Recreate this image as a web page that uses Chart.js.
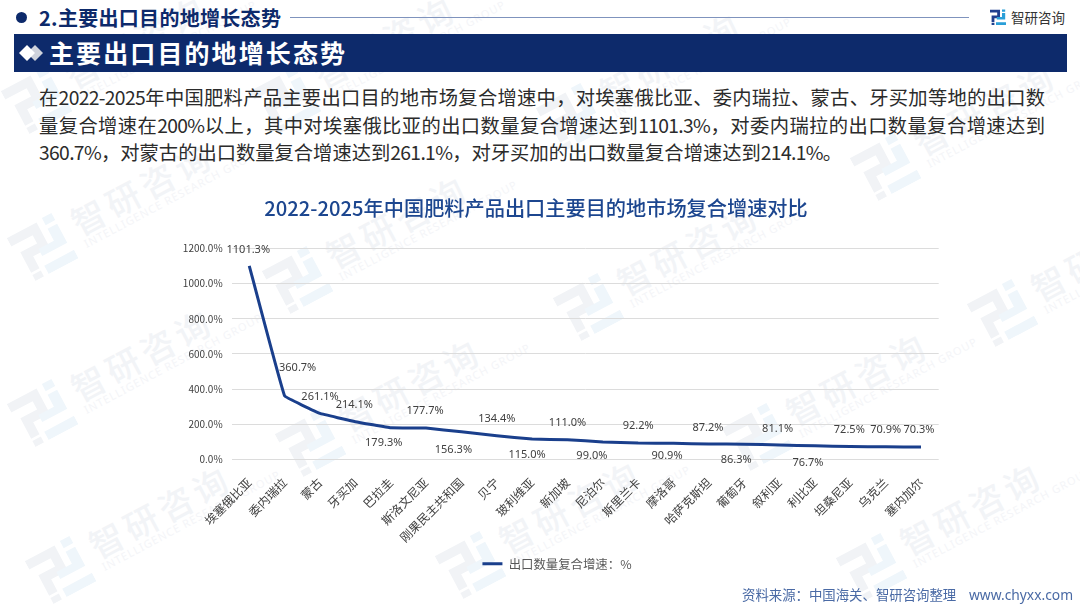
<!DOCTYPE html>
<html lang="zh-CN">
<head>
<meta charset="utf-8">
<title>主要出口目的地增长态势</title>
<script src="https://cdn.jsdelivr.net/npm/chart.js@4"></script>
<style>
  html, body { margin: 0; padding: 0; background: #fff; }
  body { width: 1080px; height: 608px; position: relative; overflow: hidden;
         font-family: "Noto Sans CJK SC", "Noto Sans", sans-serif; }
  .abs { position: absolute; white-space: nowrap; }
  #dot { left: 15.5px; top: 12px; width: 11px; height: 11px; border-radius: 50%; background: #0d2a6b; }
  #section { left: 39px; top: 3px; font-size: 20px; line-height: 29px; font-weight: 700; color: #0d2a6b; letter-spacing: .3px; }
  #rule { left: 290px; top: 17px; width: 679px; height: 1px; background: #7f93bd; }
  #brand { left: 1011px; top: 7px; font-size: 13.5px; line-height: 20px; color: #333; }
  #banner { left: 14px; top: 34px; width: 1053px; height: 38px; background: #0d2a6b; }
  #banner span { position: absolute; left: 35px; top: 0; font-size: 25px; line-height: 37px; font-weight: 700; color: #fff; letter-spacing: 2.1px; }
  #banner svg { position: absolute; left: 5px; top: 11px; }
  .line { left: 39px; font-size: 19.3px; line-height: 28px; color: #2b2b2b; }
  .line span { letter-spacing: -.65px; }
  .just { width: 1006px; white-space: normal; text-align: justify; text-align-last: justify; }
  #source { left: 742px; top: 585px; font-size: 13.4px; line-height: 19px; color: #4a6aa5; }
  #site { left: 969px; top: 585px; font-size: 13.8px; line-height: 19px; color: #4a6aa5; font-family: "Noto Sans", sans-serif; }
  #chartBox { left: 0; top: 0; width: 1080px; height: 608px; }
  .mark { position: absolute; width: 300px; height: 60px; transform-origin: 0 0; transform: rotate(-28deg); }
  .mark svg { position: absolute; left: -27px; top: -27px; }
  .mark b { position: absolute; left: 38px; top: -28px; font-size: 34px; line-height: 46px; font-weight: 500; color: #f2f4f7; letter-spacing: 5px; white-space: nowrap; }
  .mark i { position: absolute; left: 39px; top: 11px; font: normal 11px/14px "Noto Sans", sans-serif; color: #f4f5f8; letter-spacing: 1px; white-space: nowrap; }
</style>
</head>
<body>
<div id="marks"></div>

<div class="abs" id="dot"></div>
<div class="abs" id="section">2.主要出口目的地增长态势</div>
<div class="abs" id="rule"></div>
<svg class="abs" style="left:990px;top:9px" width="16" height="16" viewBox="0 0 40 40">
  <path fill="#1f3f8f" d="M0 2H25V23H11V33H4V16H18V9H0Z"/><rect fill="#1f3f8f" x="4" y="35" width="7" height="5"/>
  <path fill="#2a9fd8" d="M30 1h8v6h-8zM30 10h8v16H17v-6h13zM15 33h25v7H15z"/>
</svg>
<div class="abs" id="brand">智研咨询</div>

<div class="abs" id="banner">
  <svg width="30" height="16" viewBox="0 0 30 16"><path fill="#cfd3dc" d="M16 0l8 8-8 8-8-8z"/><path fill="#fff" d="M8 0l8 8-8 8-8-8z"/></svg>
  <span>主要出口目的地增长态势</span>
</div>

<div class="abs line just" style="top:83px">在<span>2022-2025</span>年中国肥料产品主要出口目的地市场复合增速中，对埃塞俄比亚、委内瑞拉、蒙古、牙买加等地的出口数</div>
<div class="abs line just" style="top:111px">量复合增速在<span>200%</span>以上，其中对埃塞俄比亚的出口数量复合增速达到<span>1101.3%</span>，对委内瑞拉的出口数量复合增速达到</div>
<div class="abs line" style="top:138px"><span>360.7%</span>，对蒙古的出口数量复合增速达到<span>261.1%</span>，对牙买加的出口数量复合增速达到<span>214.1%</span>。</div>

<div class="abs" id="chartBox"><canvas id="growthChart" width="1080" height="608"></canvas></div>

<div class="abs" id="source">资料来源：中国海关、智研咨询整理</div>
<div class="abs" id="site">www.chyxx.com</div>

<script>
  // country names along the x axis
  const countries = ['埃塞俄比亚', '委内瑞拉', '蒙古', '牙买加', '巴拉圭', '斯洛文尼亚', '刚果民主共和国', '贝宁', '玻利维亚', '新加坡',
    '尼泊尔', '斯里兰卡', '摩洛哥', '哈萨克斯坦', '葡萄牙', '叙利亚', '利比亚', '坦桑尼亚', '乌克兰', '塞内加尔'];

  // compound growth of export volume, percent
  const growthRates = [1101.3, 360.7, 261.1, 214.1, 179.3, 177.7, 156.3, 134.4, 115.0, 111.0,
    99.0, 92.2, 90.9, 87.2, 86.3, 81.1, 76.7, 72.5, 70.9, 70.3];

  const yTicks = [0, 200, 400, 600, 800, 1000, 1200];

  // value label nudges relative to each point
  const labelDx = [-1, 13, 0, -1, -7, -1, -8, 0, -5, 0, -11, 0, -6.5, -1, -8, -2, -7, -1, 0, -2];
  const labelDy = [-15.6, -28, -17, -17, 15, -17.5, 18, -17, 15.5, -17, 14, -17.5, 13, -16, 16, -16.5, 17, -17, -17, -17];

  // background stamps, rotated logo plus company name
  const markSpots = [[36, 100], [285, 100], [571, 117], [885, 167], [42, 247], [297, 280], [588, 307], [1002, 313],
    [42, 413], [310, 443], [757, 437], [60, 570], [470, 565], [871, 567]];

  const marks = document.getElementById('marks');
  markSpots.forEach(([x, y]) => {
    const el = document.createElement('div');
    el.className = 'mark';
    el.style.left = x + 'px';
    el.style.top = y + 'px';
    el.innerHTML = '<svg width="54" height="54" viewBox="0 0 40 40">' +
      '<path fill="#f1f3f6" d="M0 2H25V23H11V33H4V16H18V9H0Z"/><rect fill="#f1f3f6" x="4" y="35" width="7" height="5"/>' +
      '<path fill="#eff6fb" d="M30 1h8v6h-8zM30 10h8v16H17v-6h13zM15 33h25v7H15z"/></svg>' +
      '<b>智研咨询</b><i>INTELLIGENCE RESEARCH GROUP</i>';
    marks.appendChild(el);
  });

  // prints the value next to each point of the line
  const valueLabels = {
    id: 'valueLabels',
    afterDatasetsDraw(chart) {
      const ctx = chart.ctx;
      const points = chart.getDatasetMeta(0).data;
      ctx.save();
      ctx.font = '11px "Noto Sans", sans-serif';
      ctx.fillStyle = '#404040';
      ctx.textAlign = 'center';
      ctx.textBaseline = 'middle';
      points.forEach((pt, i) => {
        ctx.fillText(growthRates[i].toFixed(1) + '%', pt.x + labelDx[i], pt.y + labelDy[i]);
      });
      ctx.restore();
    }
  };

  // legend sits a little right of the title centre
  const legendShift = {
    id: 'legendShift',
    afterLayout(chart) {
      chart.legend.left += 21;
      chart.legend.right += 21;
    }
  };

  Chart.defaults.font.family = '"Noto Sans CJK SC", "Noto Sans", sans-serif';

  new Chart(document.getElementById('growthChart'), {
    type: 'line',
    data: {
      labels: countries,
      datasets: [{
        label: '出口数量复合增速：%',
        data: growthRates,
        borderColor: '#1a3f8c',
        backgroundColor: '#1a3f8c',
        borderWidth: 3,
        tension: 0.05,
        pointRadius: 0,
        pointStyle: 'line',
        clip: false
      }]
    },
    options: {
      responsive: false,
      animation: false,
      layout: { padding: { top: 196.3, left: 133.3, right: 141.3, bottom: 28 } },
      plugins: {
        title: {
          display: true,
          text: '2022-2025年中国肥料产品出口主要目的地市场复合增速对比',
          color: '#1c468f',
          font: { size: 20.2, weight: '500' },
          padding: { top: 0, bottom: 28 }
        },
        legend: {
          position: 'bottom',
          labels: {
            usePointStyle: true,
            pointStyle: 'line',
            pointStyleWidth: 20,
            padding: 4,
            color: '#595959',
            font: { size: 12.4 }
          }
        },
        tooltip: { enabled: false }
      },
      scales: {
        x: {
          offset: true,
          grid: { display: false },
          border: { display: false },
          afterFit(axis) { axis.height = 94.3; },
          ticks: {
            autoSkip: false,
            minRotation: 45,
            maxRotation: 45,
            padding: 8,
            color: '#404040',
            font: { size: 12 }
          }
        },
        y: {
          min: 0,
          max: 1200,
          afterFit(axis) { axis.width = 98.3; },
          afterBuildTicks(axis) { axis.ticks = yTicks.map(value => ({ value })); },
          grid: { color: '#dcdcdc', lineWidth: 1, drawTicks: false },
          border: { display: false },
          ticks: {
            padding: 9,
            color: '#404040',
            font: { size: 10 },
            callback: v => v.toFixed(1) + '%'
          }
        }
      }
    },
    plugins: [valueLabels, legendShift]
  });
</script>
</body>
</html>
